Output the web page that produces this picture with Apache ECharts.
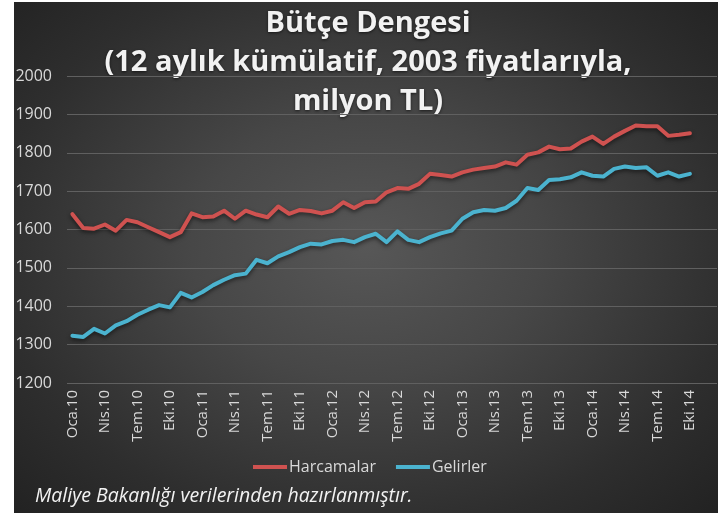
<!DOCTYPE html>
<html>
<head>
<meta charset="utf-8">
<script src="https://cdn.jsdelivr.net/npm/echarts@6/dist/echarts.min.js"></script>
<style>
html,body{margin:0;padding:0;background:#fff;}
#wrap{position:absolute;left:14px;top:2px;width:704px;height:511px;
background:radial-gradient(ellipse at 50% 48%, #575757 0%, #474747 35%, #2e2e2e 75%, #222 100%);}
#chart{position:absolute;left:0;top:0;width:720px;height:516px;}
</style>
</head>
<body>
<div id="wrap"></div>
<div id="chart"></div>
<script>
const months = ['Oca','Şub','Mar','Nis','May','Haz','Tem','Ağu','Eyl','Eki','Kas','Ara'];
const years = ['10','11','12','13','14'];
const titleLines = ['Bütçe Dengesi', '(12 aylık kümülatif, 2003 fiyatlarıyla,', 'milyon TL)'];
const footnote = 'Maliye Bakanlığı verilerinden hazırlanmıştır.';
const seriesNames = ['Harcamalar', 'Gelirler'];
const harcamalar = [1640,1604,1602,1613,1597,1625,1619,1606,1593,1580,1593,1642,1632,1634,1649,1628,1649,1639,1632,1660,1641,1651,1648,1642,1649,1671,1656,1671,1673,1697,1708,1706,1719,1745,1742,1738,1749,1756,1760,1764,1775,1769,1795,1801,1816,1809,1811,1829,1842,1823,1842,1857,1871,1869,1869,1844,1847,1851];
const gelirler = [1323,1320,1341,1329,1350,1361,1378,1391,1403,1397,1435,1423,1437,1455,1469,1481,1485,1521,1512,1530,1541,1554,1563,1561,1570,1573,1567,1580,1589,1567,1595,1573,1567,1580,1590,1597,1628,1645,1651,1649,1656,1675,1708,1703,1729,1731,1736,1749,1740,1738,1758,1764,1760,1762,1740,1749,1738,1745];

const categories = [];
years.forEach(y => months.forEach(m => categories.push(m + '.' + y)));

const chart = echarts.init(document.getElementById('chart'), null, {renderer:'canvas'});
const lineStyleBase = {width:4, shadowColor:'rgba(0,0,0,0.55)', shadowBlur:4, shadowOffsetY:2, cap:'round', join:'round'};
chart.setOption({
  backgroundColor:'transparent',
  animation:false,
  grid:{left:67, right:3, top:76, bottom:133, containLabel:false},
  xAxis:{
    type:'category', data:categories, boundaryGap:true,
    axisLine:{show:false}, axisTick:{show:false},
    axisLabel:{interval:2, rotate:90, color:'#d9d9d9', fontSize:15, fontFamily:'Open Sans', margin:7}
  },
  yAxis:{
    type:'value', min:1200, max:2000, interval:100,
    axisLine:{show:false}, axisTick:{show:false},
    axisLabel:{color:'#d9d9d9', fontSize:16, fontFamily:'Open Sans', margin:15, formatter:v => String(v)},
    splitLine:{lineStyle:{color:'#606060', width:1}}
  },
  legend:{
    data:seriesNames, top:454, left:248,
    icon:'rect', itemWidth:34, itemHeight:4, itemGap:20,
    textStyle:{color:'#d9d9d9', fontSize:16, fontFamily:'Open Sans', padding:[0,0,0,-3]}
  },
  graphic:[
    {type:'text', style:{text:titleLines.join('\n'), x:368, y:4, textAlign:'center', textVerticalAlign:'top',
      fill:'#f2f2f2', font:'bold 29px "Open Sans"', lineHeight:39, textShadowColor:'rgba(0,0,0,0.6)', textShadowBlur:3, textShadowOffsetY:1}},
    {type:'text', style:{text:footnote, x:35, y:496, textVerticalAlign:'middle', fill:'#f2f2f2', font:'italic 19.5px "Open Sans"'}}
  ],
  series:[
    {name:seriesNames[0], type:'line', data:harcamalar, symbol:'none', color:'#cf5250',
      lineStyle:Object.assign({color:'#cf5250'}, lineStyleBase)},
    {name:seriesNames[1], type:'line', data:gelirler, symbol:'none', color:'#4bb3cf',
      lineStyle:Object.assign({color:'#4bb3cf'}, lineStyleBase)}
  ]
});
</script>
</body>
</html>
